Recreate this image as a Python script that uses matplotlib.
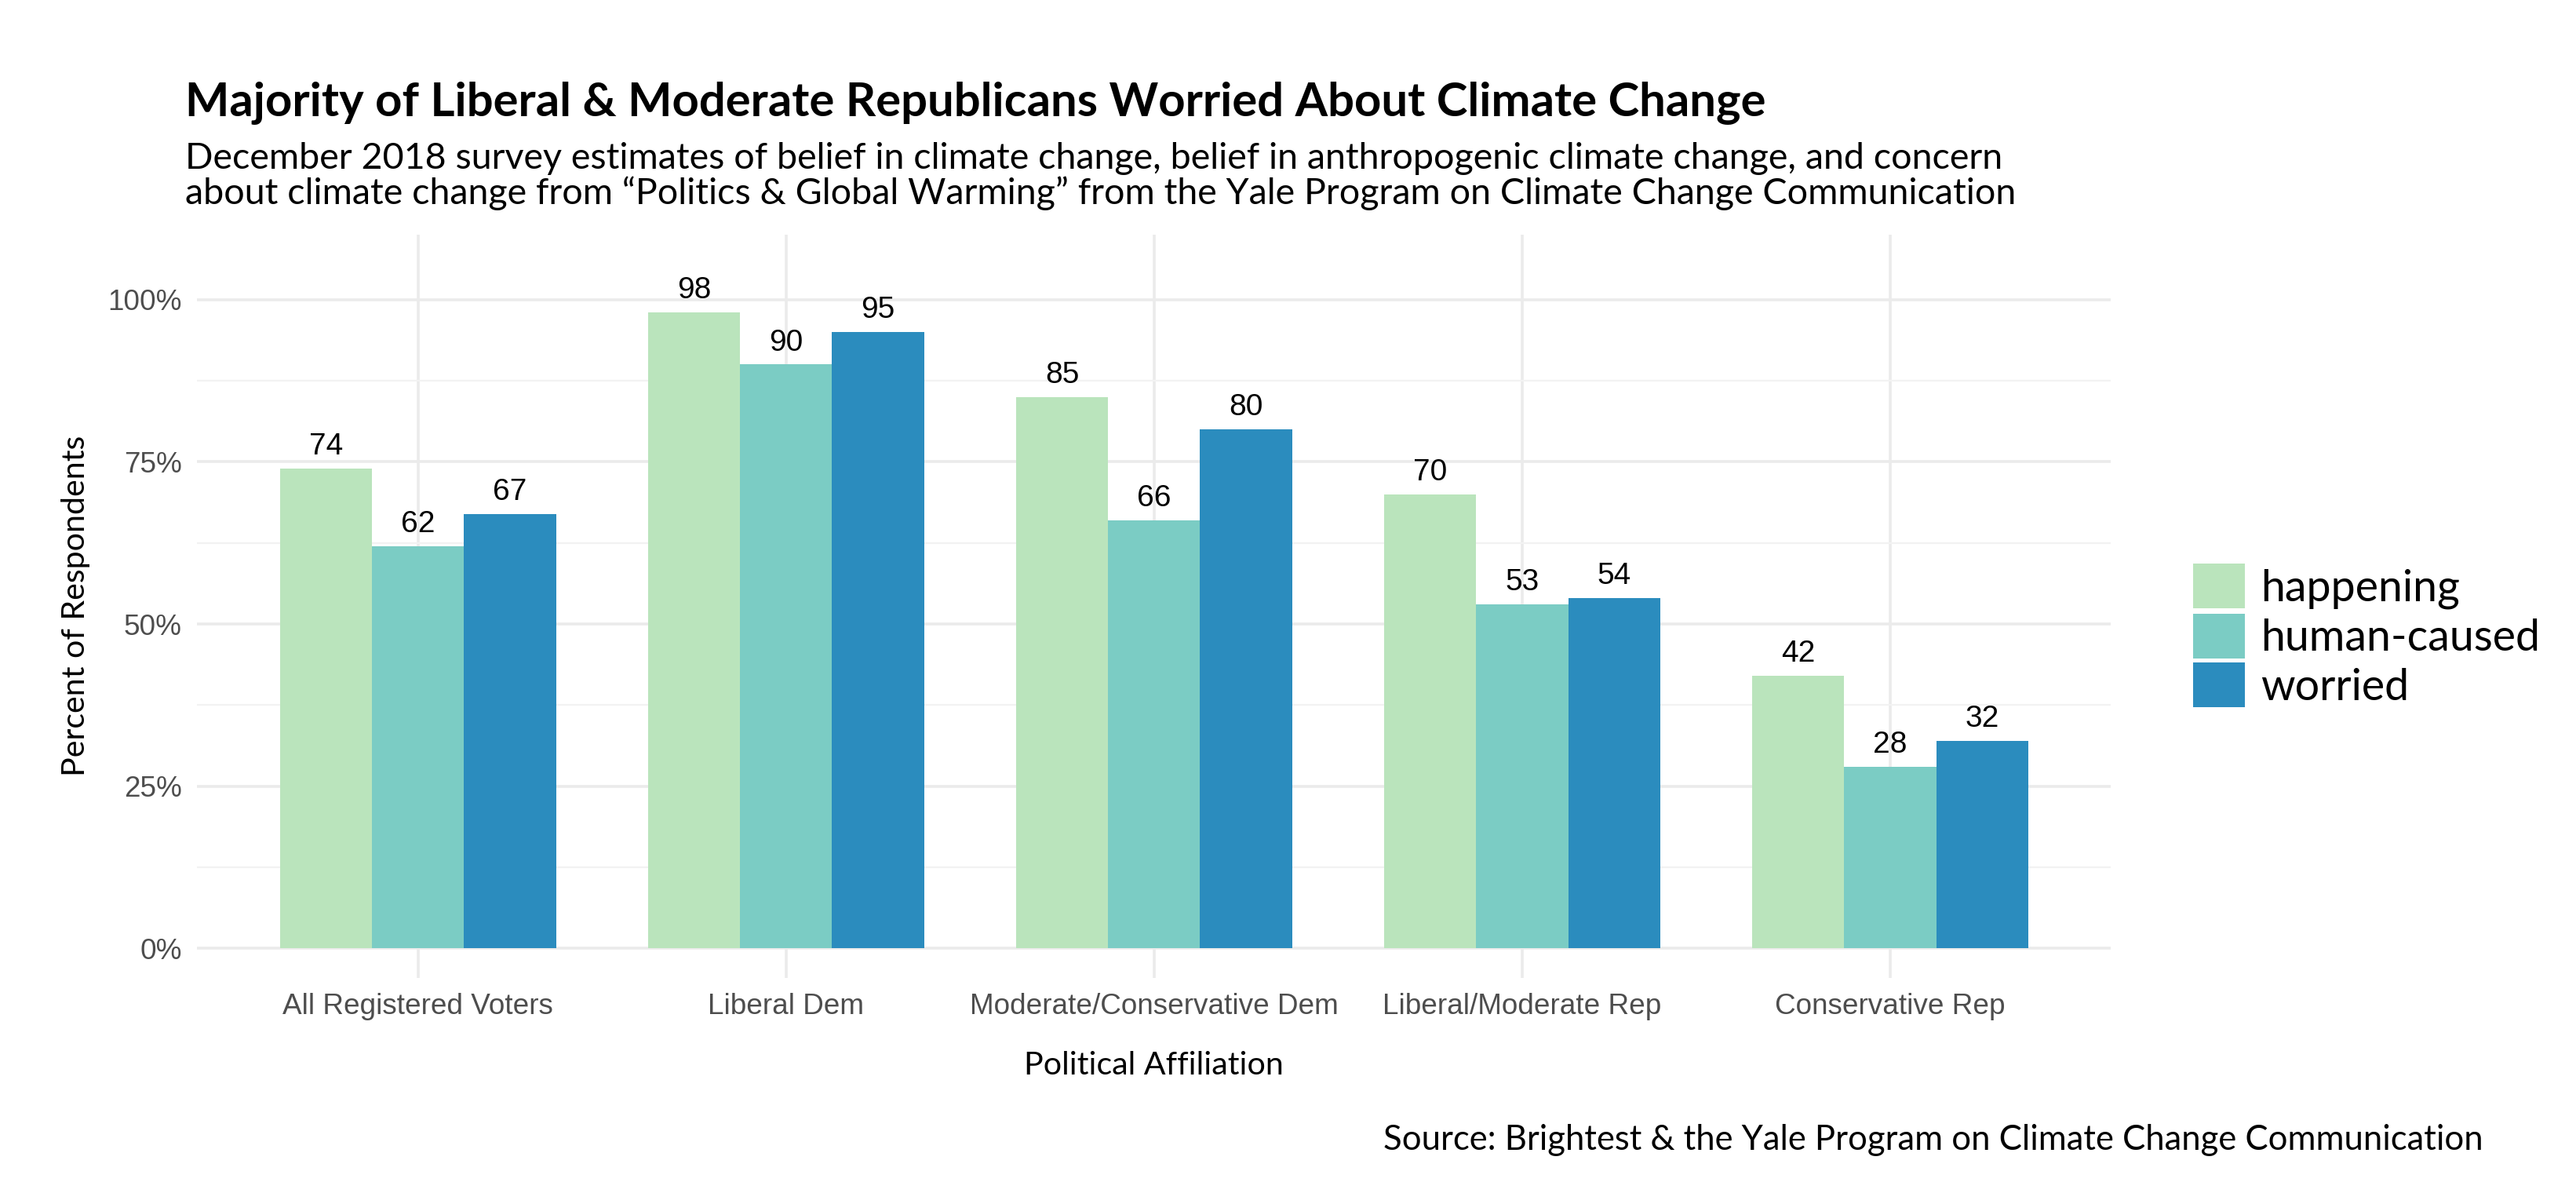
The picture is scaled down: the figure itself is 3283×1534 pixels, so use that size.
import numpy as np
import matplotlib
matplotlib.use("Agg")
import matplotlib.pyplot as plt
from matplotlib.patches import Patch

groups = ["All Registered Voters", "Liberal Dem", "Moderate/Conservative Dem",
          "Liberal/Moderate Rep", "Conservative Rep"]
series = ["happening", "human-caused", "worried"]
happening = [74, 98, 85, 70, 42]
human_caused = [62, 90, 66, 53, 28]
worried = [67, 95, 80, 54, 32]
colors = ["#BAE4BC", "#7BCCC4", "#2B8CBE"]

fig = plt.figure(figsize=(16.415, 7.67), dpi=200)
ax = fig.add_axes([0.0765, 0.188, 0.743, 0.617])

x = np.arange(len(groups))
w = 0.25
for i, (vals, c) in enumerate(zip([happening, human_caused, worried], colors)):
    pos = x + (i - 1) * w
    ax.bar(pos, vals, width=w, color=c, zorder=3)
    for p, v in zip(pos, vals):
        ax.text(p, v + 1.2, str(v), ha="center", va="bottom", fontsize=14,
                family="Liberation Sans", zorder=4)

ax.set_xlim(-0.6, 4.6)
ax.set_ylim(-4.5, 110)
ax.set_yticks([0, 25, 50, 75, 100])
ax.set_yticklabels(["0%", "25%", "50%", "75%", "100%"])
ax.set_yticks([12.5, 37.5, 62.5, 87.5], minor=True)
ax.set_xticks(x)
ax.set_xticklabels(groups)
for lab in ax.get_xticklabels() + ax.get_yticklabels():
    lab.set_family("Liberation Sans")
    lab.set_fontsize(13.3)
    lab.set_color("#4D4D4D")
ax.tick_params(length=0, pad=7)
ax.tick_params(axis="y", which="minor", length=0)
ax.grid(True, which="major", color="#EBEBEB", linewidth=1.3, zorder=0)
ax.grid(True, which="minor", axis="y", color="#F2F2F2", linewidth=0.8, zorder=0)
for s in ax.spines.values():
    s.set_visible(False)

ax.set_xlabel("Political Affiliation", fontsize=14.8, family="Lato", labelpad=14)
ax.set_ylabel("Percent of Respondents", fontsize=14.8, family="Lato", labelpad=8)

fig.text(0.072, 0.932, "Majority of Liberal & Moderate Republicans Worried About Climate Change",
         fontsize=21.5, fontweight="bold", family="Lato", va="top")
fig.text(0.072, 0.882,
         "December 2018 survey estimates of belief in climate change, belief in anthropogenic climate change, and concern\n"
         "about climate change from \u201cPolitics & Global Warming\u201d from the Yale Program on Climate Change Communication",
         fontsize=16.8, family="Lato", va="top", linespacing=1.05)
fig.text(0.964, 0.04, "Source: Brightest & the Yale Program on Climate Change Communication",
         fontsize=15.7, family="Lato", ha="right", va="bottom")

handles = [Patch(facecolor=c, edgecolor="none") for c in colors]
fig.legend(handles, series, loc="center left", bbox_to_anchor=(0.836, 0.472),
           frameon=False, prop={"family": "Lato", "size": 20},
           handlelength=1.2, handleheight=1.2, handletextpad=0.35, labelspacing=0.1)

fig.savefig("out.png", dpi=200)
